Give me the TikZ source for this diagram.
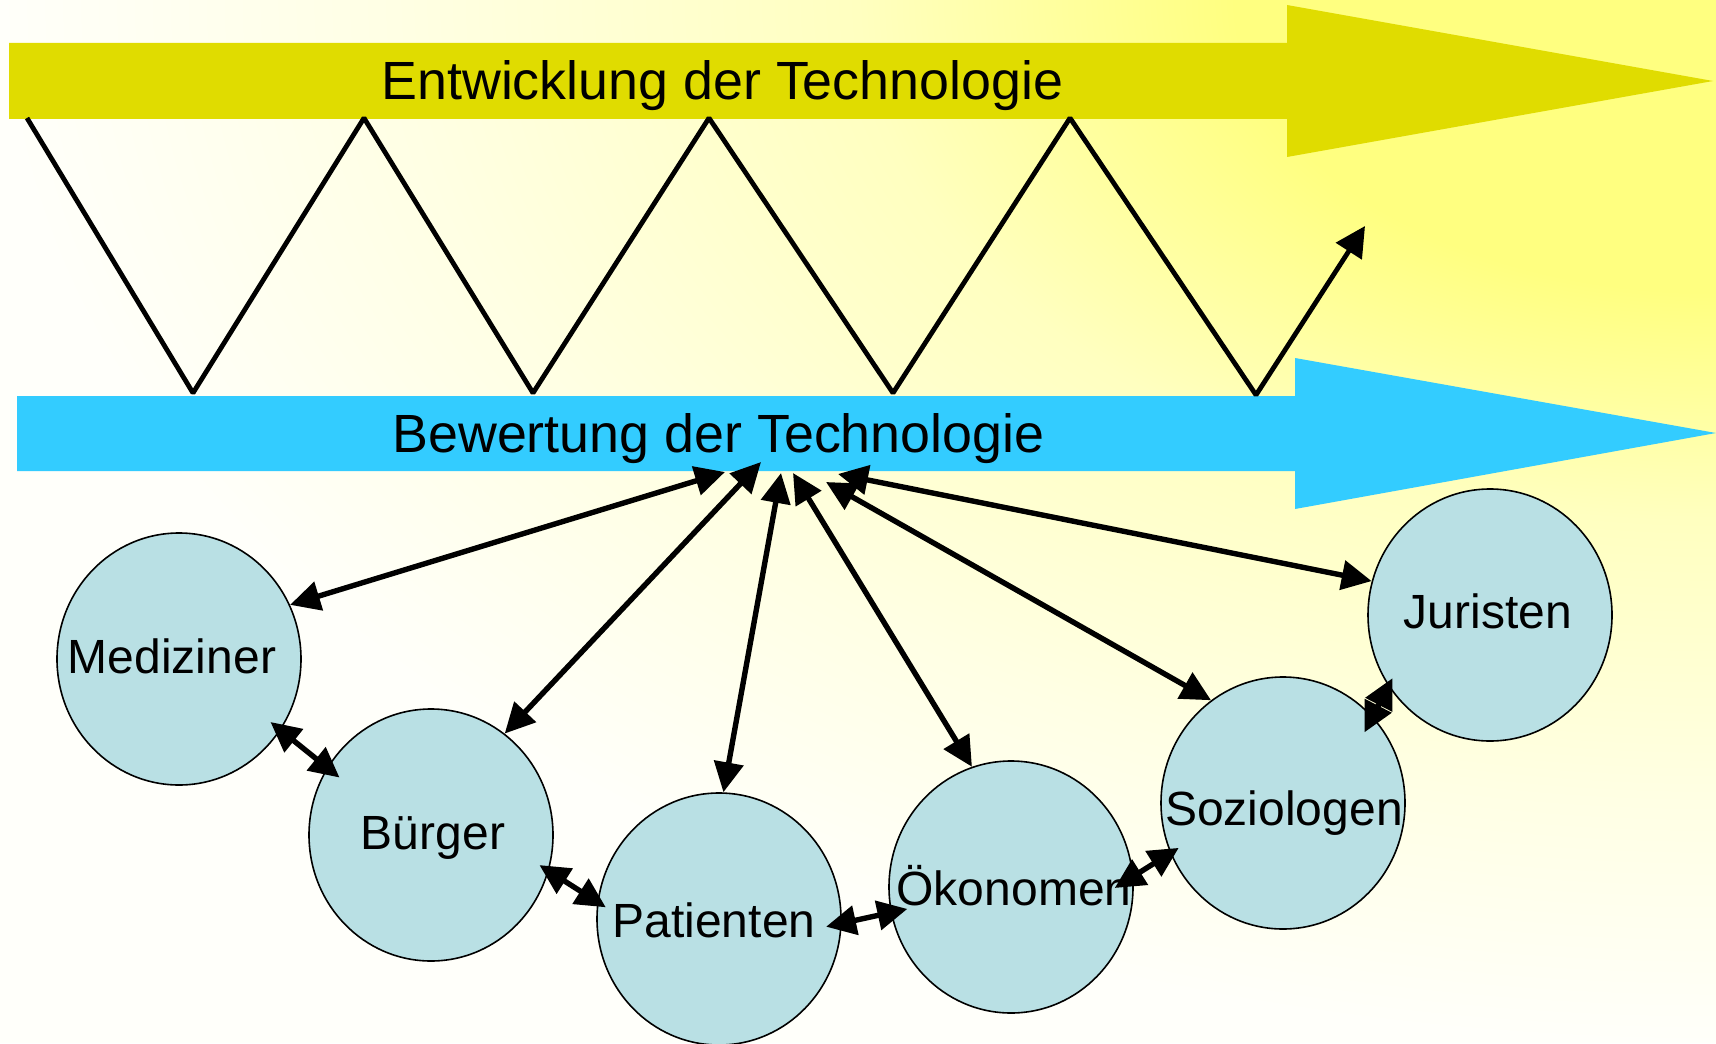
\documentclass[tikz,border=0pt]{standalone}
\usepackage{fontspec}
\setmainfont{Liberation Sans}
\usetikzlibrary{shapes.geometric,arrows.meta}
\definecolor{arrY}{RGB}{224,220,0}
\definecolor{arrB}{RGB}{51,204,255}
\definecolor{circ}{RGB}{185,224,228}
\definecolor{bgY}{RGB}{255,255,128}
\definecolor{bgM}{RGB}{255,255,192}
\definecolor{bgL}{RGB}{255,255,228}
\definecolor{bgW}{RGB}{255,255,250}
\pgfdeclareradialshading{bgshade}{\pgfpoint{0bp}{0bp}}{color(0bp)=(bgY); color(7bp)=(bgY); color(12.5bp)=(bgM); color(19.25bp)=(bgL); color(25bp)=(bgW); color(50bp)=(bgW)}
\begin{document}
\begin{tikzpicture}[x=0.5pt,y=-0.5pt,
  grp/.style={ellipse, draw=black, line width=0.8pt, fill=circ,
    minimum width=122pt, minimum height=126pt, inner sep=0pt},
  lbl/.style={font=\fontsize{24pt}{28pt}\selectfont, inner sep=0pt, anchor=base},
  ttl/.style={font=\fontsize{26.9pt}{30pt}\selectfont, inner sep=0pt, anchor=base west},
  link/.style={line width=2.7pt,
    {Triangle[length=15pt,width=14.5pt]}-{Triangle[length=15pt,width=14.5pt]}},
  zig/.style={line width=2.4pt, line join=bevel, -{Triangle[length=15pt,width=15pt]}}]
\useasboundingbox (0,0) rectangle (1716,1043);
\fill[bgW] (0,0) rectangle (1716,1043);
\begin{scope}
  \clip (0,0) rectangle (1716,1043);
  \shade[shading=bgshade] (1716,0) ellipse [x radius=1716, y radius=1043];
\end{scope}
% big arrows
\fill[arrY] (9,43) -- (1287,43) -- (1287,5) -- (1713,81) -- (1287,157) -- (1287,119) -- (9,119) -- cycle;
\fill[arrB] (17,396) -- (1295,396) -- (1295,358) -- (1716,433) -- (1295,509) -- (1295,471) -- (17,471) -- cycle;
\node[ttl] (ent) at (381,100) {Entwicklung der Technologie};
\node[ttl] (bew) at (392,452) {Bewertung der Technologie};
% zigzag
\draw[zig] (27,118) -- (193,393) -- (364,118) -- (533,393) -- (709,118) -- (893,393)
  -- (1070,118) -- (1256,395) -- (1365,226);
% groups
\node[grp] (med) at (179,659) {};
\node[grp] (bur) at (431,835) {};
\node[grp] (pat) at (719,919) {};
\node[grp] (oko) at (1011,887) {};
\node[grp] (soz) at (1283,803) {};
\node[grp] (jur) at (1490,615) {};
\node[lbl] (lmed) at (172,673) {Mediziner};
\node[lbl] (lbur) at (433,849) {Bürger};
\node[lbl] (lpat) at (714,937) {Patienten};
\node[lbl] (loko) at (1014,905) {Ökonomen};
\node[lbl] (lsoz) at (1284,825) {Soziologen};
\node[lbl] (ljur) at (1488,628) {Juristen};
% connector ends on the Bewertung arrow
\coordinate (t1) at (725,472);
\coordinate (t2) at (761,462);
\coordinate (t3) at (781,473);
\coordinate (t4) at (793,473);
\coordinate (t5) at (826,482);
\coordinate (t6) at (838,474);
\draw[link] (t1) -- (med.26);
\draw[link] (t2) -- (bur.54.6);
\draw[link] (t3) -- (pat.88.7);
\draw[link] (t4) -- (oko.108.8);
\draw[link] (t5) -- (soz.125.3);
\draw[link] (t6) -- (jur.164);
% neighbours
\draw[link, shorten <=-6.5pt, shorten >=-8pt] (med.325.3) -- (bur.147.2);
\draw[link, shorten <=-5.5pt, shorten >=-5pt] (bur.343.7) -- (pat.172.3);
\draw[link, shorten <=-8pt, shorten >=-8.5pt] (pat.358.9) -- (oko.192);
\draw[link, shorten <=-11pt, shorten >=-5pt] (oko.5.8) -- (soz.204.7);
\draw[link, shorten <=-9pt, shorten >=-4.5pt] (soz.44.6) -- (jur.215.8);
\end{tikzpicture}
\end{document}
